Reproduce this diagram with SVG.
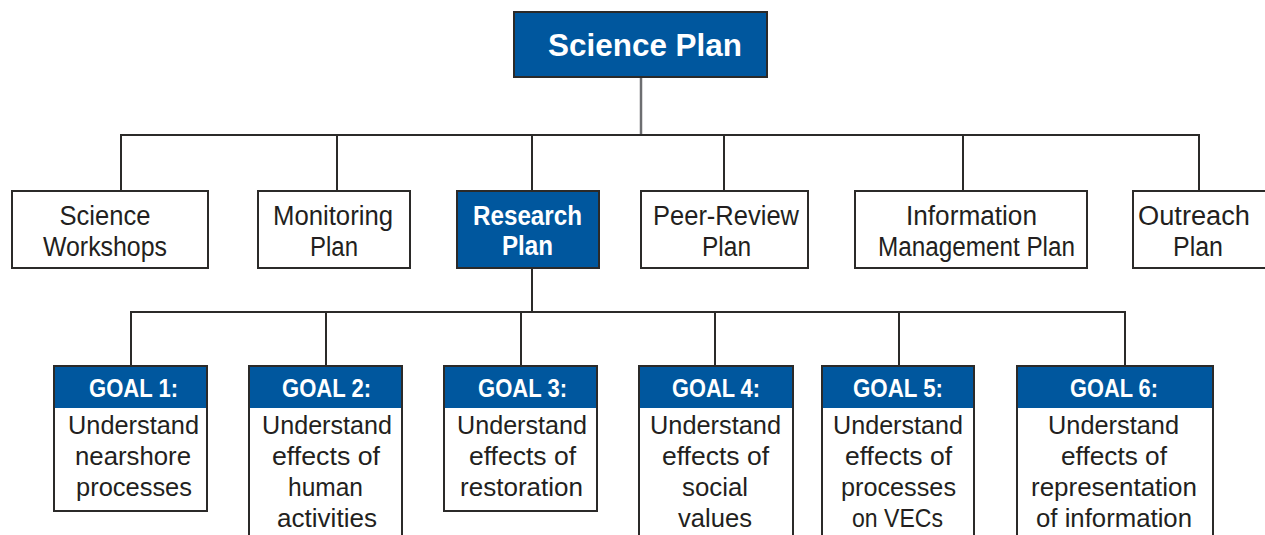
<svg xmlns="http://www.w3.org/2000/svg" width="1265" height="535" viewBox="0 0 1265 535">
<style>
.box{fill:#fff;stroke:#2b2a29;stroke-width:2}
.bbox{fill:#00579e;stroke:#2b2a29;stroke-width:2}
.hdr{fill:#00579e}
.t{font-family:"Liberation Sans Narrow","Liberation Sans",Arial,sans-serif;font-size:27px;fill:#231f20;text-anchor:middle}
.g{font-family:"Liberation Sans Narrow","Liberation Sans",Arial,sans-serif;font-size:26px;fill:#231f20;text-anchor:middle}
.w{font-family:"Liberation Sans Narrow","Liberation Sans",Arial,sans-serif;font-weight:bold;fill:#fff;text-anchor:middle}
.ln{fill:none;stroke:#2b2a29;stroke-width:2}
</style>
<g id="connectors">
<line x1="641" y1="77" x2="641" y2="135" stroke="#6d6e71" stroke-width="2.5"/>
<polyline class="ln" points="121,191 121,135 1199,135 1199,191"/>
<line class="ln" x1="337" y1="135" x2="337" y2="191"/>
<line class="ln" x1="532" y1="135" x2="532" y2="191"/>
<line class="ln" x1="724" y1="135" x2="724" y2="191"/>
<line class="ln" x1="963" y1="135" x2="963" y2="191"/>
<line class="ln" x1="532" y1="268" x2="532" y2="312"/>
<polyline class="ln" points="131,366 131,312 1125,312 1125,366"/>
<line class="ln" x1="326" y1="312" x2="326" y2="366"/>
<line class="ln" x1="521" y1="312" x2="521" y2="366"/>
<line class="ln" x1="715" y1="312" x2="715" y2="366"/>
<line class="ln" x1="899" y1="312" x2="899" y2="366"/>
</g>
<g id="science-plan">
<rect class="bbox" x="514" y="12" width="253" height="65"/>
<text class="w" x="645" y="56" font-size="32" textLength="194" lengthAdjust="spacingAndGlyphs">Science Plan</text>
</g>
<g id="science-workshops">
<rect class="box" x="12" y="191" width="196" height="77"/>
<text class="t" x="105" y="225" textLength="91" lengthAdjust="spacingAndGlyphs">Science</text>
<text class="t" x="105" y="256" textLength="124" lengthAdjust="spacingAndGlyphs">Workshops</text>
</g>
<g id="monitoring-plan">
<rect class="box" x="258" y="191" width="152" height="77"/>
<text class="t" x="333" y="225" textLength="120" lengthAdjust="spacingAndGlyphs">Monitoring</text>
<text class="t" x="334" y="256" textLength="48" lengthAdjust="spacingAndGlyphs">Plan</text>
</g>
<g id="research-plan">
<rect class="bbox" x="457" y="191" width="142" height="77"/>
<text class="w" x="527.5" y="225" font-size="27" textLength="109" lengthAdjust="spacingAndGlyphs">Research</text>
<text class="w" x="527.5" y="255" font-size="27" textLength="51" lengthAdjust="spacingAndGlyphs">Plan</text>
</g>
<g id="peer-review-plan">
<rect class="box" x="641" y="191" width="167" height="77"/>
<text class="t" x="726" y="225" textLength="146" lengthAdjust="spacingAndGlyphs">Peer-Review</text>
<text class="t" x="726.5" y="256" textLength="49" lengthAdjust="spacingAndGlyphs">Plan</text>
</g>
<g id="information-management-plan">
<rect class="box" x="855" y="191" width="232" height="77"/>
<text class="t" x="971.5" y="225" textLength="131" lengthAdjust="spacingAndGlyphs">Information</text>
<text class="t" x="976.5" y="256" textLength="197" lengthAdjust="spacingAndGlyphs">Management Plan</text>
</g>
<g id="outreach-plan">
<rect class="box" x="1133" y="191" width="140" height="77"/>
<text class="t" x="1194" y="225" textLength="112" lengthAdjust="spacingAndGlyphs">Outreach</text>
<text class="t" x="1198" y="256" textLength="50" lengthAdjust="spacingAndGlyphs">Plan</text>
</g>
<g id="goal-1">
<rect class="box" x="54" y="366" width="153" height="145"/>
<rect class="hdr" x="55" y="367" width="151" height="41"/>
<text class="w" x="133.5" y="397" font-size="25" textLength="89" lengthAdjust="spacingAndGlyphs">GOAL 1:</text>
<text class="g" x="133.5" y="434" textLength="131" lengthAdjust="spacingAndGlyphs">Understand</text>
<text class="g" x="133" y="465" textLength="116" lengthAdjust="spacingAndGlyphs">nearshore</text>
<text class="g" x="134" y="496" textLength="116" lengthAdjust="spacingAndGlyphs">processes</text>
</g>
<g id="goal-2">
<rect class="box" x="249" y="366" width="153" height="190"/>
<rect class="hdr" x="250" y="367" width="151" height="41"/>
<text class="w" x="326.5" y="397" font-size="25" textLength="89" lengthAdjust="spacingAndGlyphs">GOAL 2:</text>
<text class="g" x="327" y="434" textLength="130" lengthAdjust="spacingAndGlyphs">Understand</text>
<text class="g" x="326" y="465" textLength="108" lengthAdjust="spacingAndGlyphs">effects of</text>
<text class="g" x="325.5" y="496" textLength="75" lengthAdjust="spacingAndGlyphs">human</text>
<text class="g" x="327" y="527" textLength="100" lengthAdjust="spacingAndGlyphs">activities</text>
</g>
<g id="goal-3">
<rect class="box" x="444" y="366" width="153" height="145"/>
<rect class="hdr" x="445" y="367" width="151" height="41"/>
<text class="w" x="522.5" y="397" font-size="25" textLength="89" lengthAdjust="spacingAndGlyphs">GOAL 3:</text>
<text class="g" x="522" y="434" textLength="130" lengthAdjust="spacingAndGlyphs">Understand</text>
<text class="g" x="522.5" y="465" textLength="107" lengthAdjust="spacingAndGlyphs">effects of</text>
<text class="g" x="521.5" y="496" textLength="123" lengthAdjust="spacingAndGlyphs">restoration</text>
</g>
<g id="goal-4">
<rect class="box" x="639" y="366" width="154" height="190"/>
<rect class="hdr" x="640" y="367" width="152" height="41"/>
<text class="w" x="716" y="397" font-size="25" textLength="88" lengthAdjust="spacingAndGlyphs">GOAL 4:</text>
<text class="g" x="715.5" y="434" textLength="131" lengthAdjust="spacingAndGlyphs">Understand</text>
<text class="g" x="715.5" y="465" textLength="107" lengthAdjust="spacingAndGlyphs">effects of</text>
<text class="g" x="715" y="496" textLength="66" lengthAdjust="spacingAndGlyphs">social</text>
<text class="g" x="715" y="527" textLength="74" lengthAdjust="spacingAndGlyphs">values</text>
</g>
<g id="goal-5">
<rect class="box" x="822" y="366" width="152" height="190"/>
<rect class="hdr" x="823" y="367" width="150" height="41"/>
<text class="w" x="898" y="397" font-size="25" textLength="90" lengthAdjust="spacingAndGlyphs">GOAL 5:</text>
<text class="g" x="898" y="434" textLength="130" lengthAdjust="spacingAndGlyphs">Understand</text>
<text class="g" x="898.5" y="465" textLength="107" lengthAdjust="spacingAndGlyphs">effects of</text>
<text class="g" x="898.5" y="496" textLength="115" lengthAdjust="spacingAndGlyphs">processes</text>
<text class="g" x="897.5" y="527" textLength="91" lengthAdjust="spacingAndGlyphs">on VECs</text>
</g>
<g id="goal-6">
<rect class="box" x="1017" y="366" width="196" height="190"/>
<rect class="hdr" x="1018" y="367" width="194" height="41"/>
<text class="w" x="1114" y="397" font-size="25" textLength="88" lengthAdjust="spacingAndGlyphs">GOAL 6:</text>
<text class="g" x="1113.5" y="434" textLength="131" lengthAdjust="spacingAndGlyphs">Understand</text>
<text class="g" x="1114" y="465" textLength="106" lengthAdjust="spacingAndGlyphs">effects of</text>
<text class="g" x="1114" y="496" textLength="166" lengthAdjust="spacingAndGlyphs">representation</text>
<text class="g" x="1114" y="527" textLength="156" lengthAdjust="spacingAndGlyphs">of information</text>
</g>
</svg>
